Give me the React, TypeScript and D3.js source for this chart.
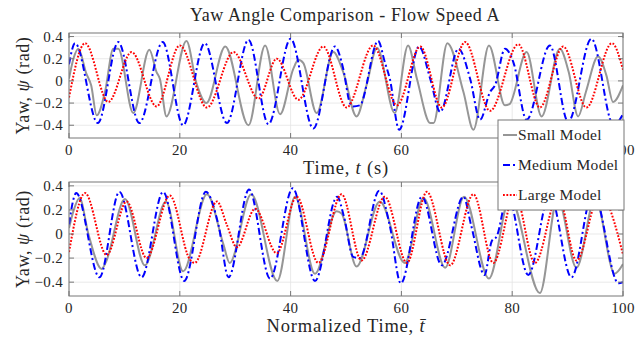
import React from 'react';
import * as d3 from 'd3';

// [time, yaw] samples
const topSmall: [number, number][] = [
  [0, 0.02], [0.8, 0.2], [1.7, 0.29], [3.1, 0.07], [4.0, -0.04], [5.0, -0.31], [6.5, -0.1], [8.0, 0.29], [8.9, 0.29],
  [11.6, -0.29], [14.5, 0.28], [15.8, 0.08], [16.4, 0.02], [17.6, -0.32], [21.2, 0.36], [23.0, -0.02], [24.8, -0.2],
  [28.2, 0.31], [32.4, -0.4], [35.4, 0.32], [38.1, -0.3], [40.5, 0.11], [41.4, 0.19], [42.3, 0.16], [44.7, -0.29],
  [47.7, 0.26], [49.5, 0.08], [51.9, -0.32], [53.7, -0.04], [55.6, 0.3], [58.8, -0.29], [61.2, 0.32], [62.8, 0.02],
  [65.2, -0.38], [65.8, -0.38], [68.3, 0.34], [71.2, -0.1], [73.0, -0.44], [75.8, 0.32], [78.7, -0.22], [79.5, -0.21],
  [82.6, 0.26], [85.3, -0.32], [88.6, 0.29], [90.2, 0.08], [91.9, -0.32], [93.3, -0.1], [95.5, 0.22], [97.0, 0.05],
  [98.2, -0.19], [100, -0.04],
];
const topMedium: [number, number][] = [
  [0, 0.15], [1.1, 0.34], [5.2, -0.38], [8.9, 0.35], [12.7, -0.38], [16.9, 0.35], [20.6, -0.4], [24.5, 0.34],
  [28.5, -0.38], [32.4, 0.37], [36.0, -0.39], [40.0, 0.38], [44.1, -0.43], [48.0, 0.31], [49.5, 0.11], [50.7, -0.2],
  [51.3, -0.23], [52.5, -0.22], [55.8, 0.36], [57.0, 0.17], [57.9, 0.02], [59.6, -0.44], [63.2, 0.31], [65.2, 0.02],
  [67.0, -0.28], [70.3, 0.29], [72.4, 0.02], [74.2, -0.35], [76.0, -0.1], [76.9, -0.04], [78.7, 0.29], [80.2, 0.17],
  [82.6, -0.35], [86.8, 0.32], [90.1, -0.37], [94.3, 0.38], [98.3, -0.4], [100, -0.3],
];
const topLarge: [number, number][] = [
  [0, -0.15], [2.9, 0.34], [7.1, -0.19], [11.3, 0.26], [15.8, -0.23], [20.0, 0.32], [24.9, -0.24], [29.7, 0.26],
  [34.2, -0.16], [37.5, 0.2], [41.4, -0.17], [45.9, 0.31], [50.1, -0.24], [54.9, 0.32], [59.2, -0.22], [63.4, 0.31],
  [67.3, -0.24], [71.5, 0.35], [76.0, -0.27], [81.1, 0.33], [85.0, -0.24], [89.2, 0.31], [93.4, -0.24], [98.0, 0.34],
  [100, 0.1],
];

const bottomSmall: [number, number][] = [
  [0, 0.05], [0.8, 0.19], [1.9, 0.3], [3.5, 0.0], [5.9, -0.29], [6.6, -0.24], [10.1, 0.29], [13.7, -0.26], [17.5, 0.27],
  [20.6, -0.31], [24.9, 0.33], [27.9, -0.09], [29.0, -0.24], [32.9, 0.33], [37.6, -0.39], [40.8, 0.31], [44.4, -0.33],
  [48.3, 0.19], [49.2, 0.17], [51.9, -0.27], [56.1, 0.27], [60.6, -0.24], [64.0, 0.3], [67.9, -0.28], [71.3, 0.31],
  [75.8, -0.37], [79.6, 0.3], [85.0, -0.49], [88.2, 0.3], [91.6, -0.28], [95.0, 0.3], [98.5, -0.33], [100, -0.25],
];
const bottomMedium: [number, number][] = [
  [0, 0.08], [1.3, 0.34], [5.5, -0.36], [9.1, 0.35], [13.1, -0.36], [17.0, 0.35], [20.8, -0.39], [24.7, 0.35],
  [27.0, 0.07], [28.8, -0.36], [32.5, 0.37], [36.3, -0.37], [40.4, 0.38], [44.4, -0.39], [48.4, 0.31], [49.6, 0.15],
  [51.3, -0.19], [52.5, -0.2], [56.0, 0.36], [57.9, 0.07], [59.9, -0.41], [63.7, 0.31], [67.3, -0.26], [71.2, 0.31],
  [72.6, 0.07], [75.0, -0.34], [76.3, -0.06], [77.2, -0.02], [79.2, 0.32], [82.9, -0.34], [86.8, 0.33], [90.7, -0.36],
  [94.6, 0.35], [99.2, -0.41], [100, -0.4],
];
const bottomLarge: [number, number][] = [
  [0, -0.15], [2.9, 0.34], [6.8, -0.175], [10.4, 0.27], [14.0, -0.2], [18.2, 0.32], [21.8, -0.21], [22.7, -0.24],
  [26.7, 0.27], [28.5, 0.075], [30.3, -0.11], [33.6, 0.21], [37.5, -0.16], [41.1, 0.31], [45.0, -0.24], [49.2, 0.33],
  [52.8, -0.22], [57.0, 0.31], [61.0, -0.24], [64.6, 0.35], [68.8, -0.26], [73.0, 0.33], [76.6, -0.24], [80.5, 0.33],
  [84.1, -0.24], [88.3, 0.32], [91.6, -0.22], [95.8, 0.33], [100, -0.17],
];

const xTicks = [0, 20, 40, 60, 80, 100];
const yTicks = [-0.4, -0.2, 0, 0.2, 0.4];
const seriesNames = ['Small Model', 'Medium Model', 'Large Model'];

const W = 642;
const H = 339;
const FONT = '"Liberation Serif", "DejaVu Serif", serif';

const styles = [
  { color: '#969696', dash: undefined as string | undefined, width: 2 },
  { color: '#0000ff', dash: '7,3,2,3', width: 2 },
  { color: '#ff0000', dash: '1.8,1.6', width: 2 },
];

type Panel = {
  id: string;
  top: number;
  bottom: number;
  series: [number, number][][];
  xLabel: React.ReactNode;
};

const x = d3.scaleLinear().domain([0, 100]).range([69, 623]);

const Axes = ({ p }: { p: Panel }) => {
  const y = d3.scaleLinear().domain([-0.515, 0.432]).range([p.bottom, p.top]);
  const line = d3
    .line<[number, number]>()
    .x(d => x(d[0]))
    .y(d => y(d[1]))
    .curve(d3.curveMonotoneX);
  const [x0, x1] = x.range();
  const midY = (p.top + p.bottom) / 2;
  return (
    <g>
      <defs>
        <clipPath id={`clip-${p.id}`}>
          <rect x={x0} y={p.top} width={x1 - x0} height={p.bottom - p.top} />
        </clipPath>
      </defs>
      <rect x={x0} y={p.top} width={x1 - x0} height={p.bottom - p.top} fill="#fff" />
      {/* grid */}
      {xTicks.map(t => (
        <line key={'gx' + t} x1={x(t)} x2={x(t)} y1={p.top} y2={p.bottom} stroke="#e3e3e3" strokeWidth={0.8} />
      ))}
      {yTicks.map(t => (
        <line key={'gy' + t} x1={x0} x2={x1} y1={y(t)} y2={y(t)} stroke="#e3e3e3" strokeWidth={0.8} />
      ))}
      <g clipPath={`url(#clip-${p.id})`}>
        {p.series.map((s, i) => (
          <path
            key={i}
            d={line(s) || ''}
            fill="none"
            stroke={styles[i].color}
            strokeWidth={styles[i].width}
            strokeDasharray={styles[i].dash}
          />
        ))}
      </g>
      {/* ticks */}
      {xTicks.map(t => (
        <g key={'tx' + t}>
          <line x1={x(t)} x2={x(t)} y1={p.bottom} y2={p.bottom - 5} stroke="#777" />
          <line x1={x(t)} x2={x(t)} y1={p.top} y2={p.top + 5} stroke="#777" />
          <text x={x(t)} y={p.bottom + 17} textAnchor="middle" fontSize={15} fill="#262626" letterSpacing={0.3}>
            {t}
          </text>
        </g>
      ))}
      {yTicks.map(t => (
        <g key={'ty' + t}>
          <line x1={x0} x2={x0 + 5} y1={y(t)} y2={y(t)} stroke="#777" />
          <line x1={x1} x2={x1 - 5} y1={y(t)} y2={y(t)} stroke="#777" />
          <text x={x0 - 6} y={y(t) + 5} textAnchor="end" fontSize={15} fill="#262626" letterSpacing={0.3}>
            {t === 0 ? '0' : d3.format('.1f')(t)}
          </text>
        </g>
      ))}
      <rect x={x0} y={p.top} width={x1 - x0} height={p.bottom - p.top} fill="none" stroke="#777" strokeWidth={1} />
      <text
        transform={`translate(29,${midY}) rotate(-90)`}
        textAnchor="middle"
        fontSize={18}
        letterSpacing={0.6}
        fill="#262626"
      >
        Yaw, <tspan fontStyle="italic">ψ</tspan> (rad)
      </text>
      <text
        x={(x0 + x1) / 2}
        y={p.bottom + 36}
        textAnchor="middle"
        fontSize={18.5}
        letterSpacing={0.8}
        fill="#262626"
      >
        {p.xLabel}
      </text>
    </g>
  );
};

const App = () => {
  const panels: Panel[] = [
    {
      id: 'a',
      top: 33,
      bottom: 138,
      series: [topSmall, topMedium, topLarge],
      xLabel: (
        <>
          Time, <tspan fontStyle="italic">t</tspan> (s)
        </>
      ),
    },
    {
      id: 'b',
      top: 182,
      bottom: 296,
      series: [bottomSmall, bottomMedium, bottomLarge],
      xLabel: (
        <>
          Normalized Time, <tspan fontStyle="italic">{'t\u0304'}</tspan>
        </>
      ),
    },
  ];
  const legend = { x: 498, y: 120, w: 126, h: 90 };
  return (
    <svg
      width={W}
      height={H}
      style={{ position: 'absolute', left: 0, top: 0, background: '#fff' }}
      fontFamily={FONT}
    >
      <text x={345} y={21} textAnchor="middle" fontSize={18} letterSpacing={0.6} fill="#262626">
        Yaw Angle Comparison - Flow Speed A
      </text>
      {panels.map(p => (
        <Axes key={p.id} p={p} />
      ))}
      <g>
        <rect x={legend.x} y={legend.y} width={legend.w} height={legend.h} fill="#fff" stroke="#777" />
        {seriesNames.map((n, i) => {
          const cy = legend.y + 15 + i * 30;
          return (
            <g key={n}>
              <line
                x1={legend.x + 5}
                x2={legend.x + 19}
                y1={cy}
                y2={cy}
                stroke={styles[i].color}
                strokeWidth={styles[i].width}
                strokeDasharray={styles[i].dash}
              />
              <text x={legend.x + 20} y={cy + 5} fontSize={15.5} letterSpacing={0.3} fill="#262626">
                {n}
              </text>
            </g>
          );
        })}
      </g>
    </svg>
  );
};

export default App;
